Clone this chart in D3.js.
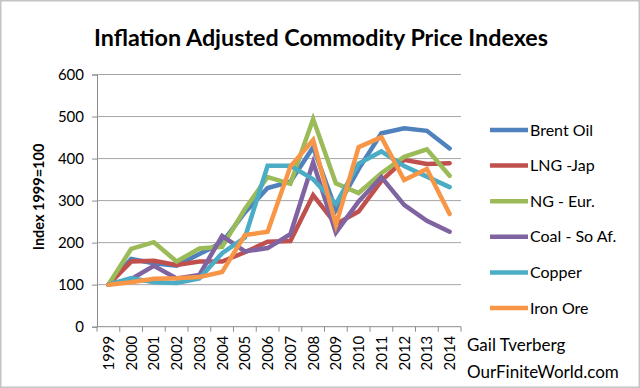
<!DOCTYPE html>
<html>
<head>
<meta charset="utf-8">
<script src="https://cdn.jsdelivr.net/npm/d3@7"></script>
<style>
  body { margin: 0; background: #fff; }
  svg { display: block; font-family: Lato, "Open Sans", sans-serif; }
</style>
</head>
<body>
<svg></svg>
<script>
const years = ["1999","2000","2001","2002","2003","2004","2005","2006","2007","2008","2009","2010","2011","2012","2013","2014"];

const brentOil = [100,161,151,145,173,200,272,330,345,427,278,375,460,472,466,424];
const lngJap   = [100,155,157,147,155,155,177,202,204,313,244,274,347,397,387,389];
const ngEur    = [100,185,201,155,186,190,280,356,340,494,341,318,365,404,422,359];
const coalSoAf = [100,113,145,115,123,216,179,187,220,391,224,298,356,290,252,226];
const copper   = [100,116,106,104,115,175,212,383,383,351,292,388,417,382,357,332];
const ironOre  = [100,106,114,115,118,130,218,226,381,444,242,427,451,349,375,268];

const seriesNames  = ["Brent Oil","LNG -Jap","NG - Eur.","Coal - So Af.","Copper","Iron Ore"];
const seriesValues = [brentOil, lngJap, ngEur, coalSoAf, copper, ironOre];
const seriesColors = ["#4f81bd","#c0504d","#9bbb59","#8064a2","#4bacc6","#f79646"];

const yTicks = [0,100,200,300,400,500,600];

drawChart();

function drawChart(){
    const width = 640;
    const height = 388;
    const left = 97, right = 461, top = 74.5, bottom = 326.7;

    const svg = d3.select("svg")
                  .attr("width", width)
                  .attr("height", height);

    // outer frame
    svg.append("rect")
       .attr("x", 0.5).attr("y", 0.5)
       .attr("width", width - 1).attr("height", height - 1)
       .attr("fill", "none")
       .attr("stroke", "#c4c4c4")
       .attr("stroke-width", 2);

    const xScale = d3.scalePoint()
                     .domain(years)
                     .range([left, right])
                     .padding(0.5);

    const xBand = d3.scaleBand()
                    .domain(years)
                    .range([left, right]);

    const yScale = d3.scaleLinear()
                     .domain([0, 600])
                     .range([bottom, top]);

    // gridlines
    svg.append("g")
       .selectAll("line")
       .data(yTicks.filter(d => d > 0))
       .enter()
       .append("line")
       .attr("x1", left).attr("x2", right)
       .attr("y1", d => yScale(d)).attr("y2", d => yScale(d))
       .attr("stroke", "#a6a6a6")
       .attr("stroke-width", 1);

    // y axis
    const yAxis = d3.axisLeft(yScale).tickValues(yTicks).tickSize(5).tickPadding(8);
    const gy = svg.append("g")
       .attr("transform", `translate(${left},0)`)
       .call(yAxis);
    gy.select(".domain").attr("stroke", "#8c8c8c");
    gy.selectAll(".tick line").attr("stroke", "#8c8c8c");
    gy.selectAll(".tick text")
      .attr("fill", "#000")
      .style("font-size", "15px")
      .style("font-family", "Lato, sans-serif");

    // x axis line
    svg.append("line")
       .attr("x1", left).attr("x2", right)
       .attr("y1", bottom).attr("y2", bottom)
       .attr("stroke", "#8c8c8c");

    // x tick marks between categories
    const bounds = years.map(d => xBand(d)).concat([xBand.range()[1]]);
    svg.append("g")
       .selectAll("line")
       .data(bounds)
       .enter()
       .append("line")
       .attr("x1", d => d).attr("x2", d => d)
       .attr("y1", bottom).attr("y2", bottom + 5)
       .attr("stroke", "#8c8c8c");

    // x labels, rotated
    svg.append("g")
       .selectAll("text")
       .data(years)
       .enter()
       .append("text")
       .attr("transform", d => `translate(${xScale(d) + 5.5},${bottom + 9}) rotate(-90)`)
       .attr("text-anchor", "end")
       .style("font-size", "15px")
       .text(d => d);

    // lines
    const line = d3.line()
                   .x((d, i) => xScale(years[i]))
                   .y(d => yScale(d));

    svg.append("g")
       .selectAll("path")
       .data(seriesValues)
       .enter()
       .append("path")
       .attr("d", d => line(d))
       .attr("fill", "none")
       .attr("stroke", (d, i) => seriesColors[i])
       .attr("stroke-width", 4.5)
       .attr("stroke-linejoin", "miter")
       .attr("stroke-linecap", "round");

    // legend
    const legend = svg.append("g")
                      .selectAll("g")
                      .data(seriesNames)
                      .enter()
                      .append("g")
                      .attr("transform", (d, i) => `translate(490,${130 + i * 35.6})`);

    legend.append("line")
          .attr("x1", 0).attr("x2", 38)
          .attr("stroke", (d, i) => seriesColors[i])
          .attr("stroke-width", 4.5);

    legend.append("text")
          .attr("x", 40)
          .attr("dy", "0.35em")
          .style("font-size", "16px")
          .text(d => d);

    // title
    svg.append("text")
       .attr("x", 94)
       .attr("y", 46)
       .attr("textLength", 454)
       .attr("lengthAdjust", "spacingAndGlyphs")
       .style("font-size", "22.5px")
       .style("font-weight", "bold")
       .text("Inflation Adjusted Commodity Price Indexes");

    // y axis title
    svg.append("text")
       .attr("transform", "translate(44,197) rotate(-90)")
       .attr("text-anchor", "middle")
       .style("font-size", "14.5px")
       .style("font-weight", "bold")
       .text("Index 1999=100");

    // credit
    svg.append("text")
       .attr("x", 467).attr("y", 351)
       .style("font-size", "17px")
       .text("Gail Tverberg");

    svg.append("text")
       .attr("x", 467).attr("y", 378)
       .style("font-size", "17px")
       .text("OurFiniteWorld.com");
}
</script>
</body>
</html>
